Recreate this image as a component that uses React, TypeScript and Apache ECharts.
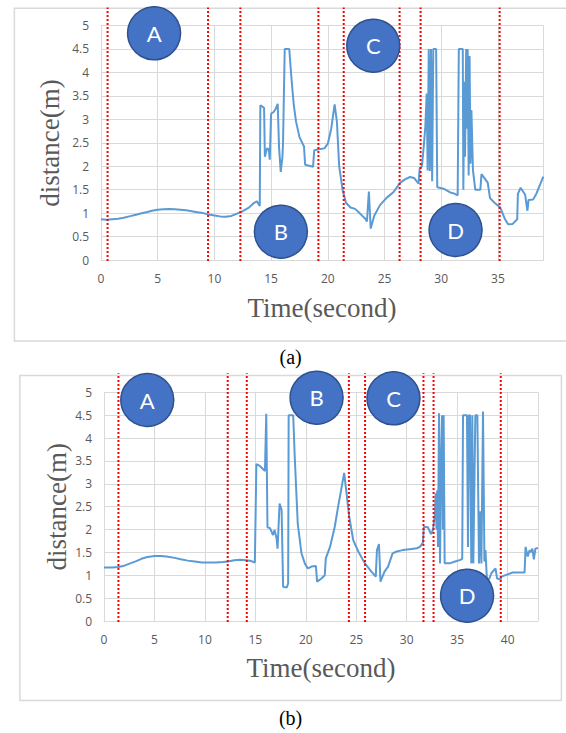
import React, { useEffect, useRef } from 'react';
import * as echarts from 'echarts';

// ---------- Data: chart (a) ----------
const timeA = [
  0, 0.5, 1, 1.5, 2, 2.5, 3, 3.5, 4, 4.5, 5, 5.5, 6, 6.5, 7, 7.5, 8, 8.5, 9, 9.5,
  10, 10.5, 11, 11.5, 12, 12.5, 13, 13.5, 13.75, 14.0,
  14.05, 14.3, 14.38, 14.45, 14.55, 14.65, 14.8, 14.88, 15.0, 15.2, 15.4, 15.58, 15.7, 15.85, 16.0, 16.05,
  16.2, 16.6, 16.8, 17.0, 17.2, 17.5, 17.9, 18.0, 18.7, 18.8, 19.2, 19.7, 20.0, 20.3, 20.6, 20.8,
  21.0, 21.3, 21.6, 22.0, 22.4, 22.8, 23.3, 23.45, 23.62, 23.78, 24.1, 24.6, 25.2, 25.8, 26.35, 26.8,
  27.25, 27.6, 28.0, 28.1, 28.3, 28.45, 28.6, 28.72, 28.8, 28.9, 29.0, 29.1, 29.2, 29.3, 29.55, 29.65,
  30.2, 30.8, 31.1, 31.45, 31.55, 31.9, 31.95, 32.04, 32.1, 32.2, 32.27, 32.33, 32.42, 32.5, 32.58, 32.66,
  32.8, 33.0, 33.45, 33.55, 34.1, 34.3, 34.7, 35.2, 35.6, 35.9, 36.3, 36.7, 36.76, 37.0, 37.4, 37.6,
  37.7, 38.1, 38.4, 39.0,
];
const distA = [
  0.87, 0.86, 0.87, 0.88, 0.9, 0.93, 0.96, 0.99, 1.02, 1.05, 1.07, 1.08, 1.09, 1.08, 1.07, 1.06, 1.04, 1.02, 1.0, 0.97,
  0.95, 0.93, 0.92, 0.94, 0.99, 1.04, 1.11, 1.22, 1.25, 1.15,
  3.3, 3.26, 3.24, 2.2, 2.3, 2.38, 2.36, 2.14, 3.12, 3.15, 3.22, 3.33, 2.4, 1.88, 2.2, 2.5,
  4.5, 4.5, 3.85, 3.3, 2.95, 2.62, 2.42, 2.03, 1.99, 2.34, 2.36, 2.38, 2.48, 2.8, 3.32, 2.95,
  2.0, 1.5, 1.22, 1.12, 1.09, 1.0, 0.88, 0.82, 1.46, 0.67, 0.95, 1.17, 1.33, 1.45, 1.64, 1.72,
  1.77, 1.75, 1.63, 1.95, 2.0, 2.4, 2.85, 3.55, 1.91, 4.5, 1.9, 4.5, 1.68, 4.5, 4.5, 1.55,
  1.52, 1.44, 1.42, 1.38, 4.5, 4.5, 1.5, 3.8, 2.2, 4.5, 2.8, 4.5, 1.8, 4.35, 2.05, 3.2,
  1.91, 1.5, 1.5, 1.83, 1.65, 1.32, 1.22, 1.12, 0.88, 0.76, 0.77, 0.87, 1.41, 1.54, 1.39, 1.05,
  1.28, 1.29, 1.42, 1.78,
];
const boundsA = [0.58, 9.44, 12.29, 19.17, 21.4, 26.33, 28.18, 35.15];

// ---------- Data: chart (b) ----------
const timeB = [
  0, 0.8, 1.43, 2.0, 2.6, 3.2, 3.7, 4.3, 5.0, 5.6, 6.2, 7.0, 7.6, 8.3, 9.0, 9.7, 10.4, 11.1, 11.8, 12.3,
  12.9, 13.5, 14.1, 14.6, 14.95,
  15.1, 15.45, 15.95, 16.08, 16.2, 16.45, 16.75, 16.9, 17.1, 17.2, 17.4, 17.6, 17.75, 18.1, 18.25, 18.3,
  18.75, 18.9, 19.2, 19.57, 19.9, 20.2, 20.56, 21.0, 21.12, 21.55, 21.88, 21.98, 22.4, 22.87, 23.2, 23.5,
  23.8, 24.0, 24.3, 24.7, 25.2, 25.85, 26.5, 26.93, 27.05, 27.25, 27.4, 27.8, 28.15, 28.6, 29.0, 29.6,
  30.3, 31.0, 31.3, 31.6, 31.7, 32.1, 32.4, 32.6, 32.8, 32.87, 32.95, 33.02, 33.1, 33.2, 33.3, 33.4,
  33.5, 33.58, 33.66, 33.76, 34.26, 34.8, 35.25, 35.5, 35.58, 35.97, 36.07, 36.17, 36.27, 36.4, 36.5, 36.6,
  36.8, 37.0, 37.16, 37.25, 37.4, 37.56, 37.7, 37.8, 37.95, 38.2, 38.4, 38.8, 38.95, 39.3, 39.4, 40.0,
  40.5, 41.68, 41.78, 41.99, 42.18, 42.3, 42.45, 42.6, 42.75, 43.0,
];
const distB = [
  1.17, 1.17, 1.18, 1.21, 1.26, 1.31, 1.36, 1.4, 1.42, 1.42, 1.41, 1.38, 1.35, 1.32, 1.3, 1.28, 1.28, 1.28, 1.29, 1.3,
  1.33, 1.34, 1.33, 1.31, 1.28,
  3.43, 3.39, 3.28, 4.53, 2.05, 2.03, 1.88, 1.99, 1.81, 1.58, 2.57, 2.43, 0.75, 0.73, 0.82, 4.5,
  4.5, 3.6, 2.13, 1.48, 1.26, 1.15, 1.19, 1.2, 0.86, 0.93, 1.0, 1.37, 1.62, 2.06, 2.5, 2.86,
  3.24, 2.86, 2.28, 1.77, 1.52, 1.26, 1.08, 0.97, 1.55, 1.68, 0.86, 1.08, 1.19, 1.48, 1.52, 1.55,
  1.57, 1.59, 1.62, 1.71, 2.06, 2.05, 1.9, 1.99, 2.35, 2.79, 2.0, 2.86, 1.62, 4.54, 1.26, 3.5,
  4.5, 2.0, 4.5, 1.26, 1.26, 1.3, 1.33, 1.36, 4.5, 4.5, 1.62, 4.5, 4.5, 1.26, 4.5, 1.26,
  4.5, 4.5, 1.26, 2.4, 1.26, 4.58, 1.3, 1.55, 0.9, 0.93, 1.05, 1.15, 0.93, 0.91, 0.97, 1.02,
  1.06, 1.06, 1.62, 1.41, 1.55, 1.5, 1.58, 1.35, 1.58, 1.6,
];
const boundsB = [1.43, 12.26, 14.15, 24.27, 25.87, 31.66, 32.66, 39.32];

const GRID = '#d9d9d9';
const LABEL = '#595959';

function xAxis(gridIndex: number, max: number) {
  return {
    type: 'value', gridIndex, min: 0, max, interval: 5,
    axisLine: { show: true, lineStyle: { color: GRID, width: 1 } },
    axisTick: { show: false },
    axisLabel: { color: LABEL, fontSize: 12, fontFamily: 'Open Sans', margin: 12, showMaxLabel: false },
    splitLine: { show: true, lineStyle: { color: GRID, width: 1 } },
  };
}
function yAxis(gridIndex: number) {
  return {
    type: 'value', gridIndex, min: 0, max: 5, interval: 0.5,
    axisLine: { show: false },
    axisTick: { show: false },
    axisLabel: { color: LABEL, fontSize: 12, fontFamily: 'Open Sans', margin: 12 },
    splitLine: { show: true, lineStyle: { color: GRID, width: 1 } },
  };
}
function boundarySeries(idx: number, bounds: number[], rise: number) {
  return {
    type: 'custom', xAxisIndex: idx, yAxisIndex: idx, z: 5,
    data: bounds.map((t) => [t, 0]),
    encode: { x: 0, y: 1 },
    renderItem: (_p: any, api: any) => {
      const b = api.coord([api.value(0), 0]);
      const t = api.coord([api.value(0), 5]);
      return {
        type: 'line',
        shape: { x1: b[0], y1: b[1] + 1, x2: b[0], y2: t[1] - rise },
        style: { stroke: '#ff0000', lineWidth: 2, lineDash: [2, 2] },
      };
    },
  };
}
function badge(cx: number, cy: number, letter: string) {
  return [
    { type: 'circle', z: 100, shape: { cx, cy, r: 26.5 }, style: { fill: '#4472C4', stroke: '#2F528F', lineWidth: 1.5 } },
    {
      type: 'text', z: 101, x: cx, y: cy,
      style: { text: letter, fill: '#ffffff', fontSize: 22, fontFamily: 'Lato', textAlign: 'center', textVerticalAlign: 'middle', align: 'center', verticalAlign: 'middle' },
    },
  ];
}
function label(x: number, y: number, text: string, size: number, color: string, rotation = 0) {
  return {
    type: 'text', z: 50, x, y, rotation,
    style: { text, fill: color, fontSize: size, fontFamily: '"Liberation Serif", serif', textAlign: 'center', textVerticalAlign: 'middle', align: 'center', verticalAlign: 'middle' },
  };
}

export default function App() {
  const ref = useRef<HTMLDivElement>(null);
  useEffect(() => {
    if (!ref.current) return;
    const chart = echarts.init(ref.current, null, { renderer: 'svg' });
    const option: any = {
      animation: false,
      backgroundColor: '#ffffff',
      grid: [
        { left: 101, top: 25.5, width: 442.3, height: 234.5 },
        { left: 104, top: 392.3, width: 433.9, height: 228.7 },
      ],
      xAxis: [xAxis(0, 39), xAxis(1, 43)],
      yAxis: [yAxis(0), yAxis(1)],
      series: [
        {
          type: 'line', xAxisIndex: 0, yAxisIndex: 0, z: 3, showSymbol: false, symbol: 'none',
          data: timeA.map((t, i) => [t, distA[i]]),
          lineStyle: { color: '#5B9BD5', width: 2 },
        },
        {
          type: 'line', xAxisIndex: 1, yAxisIndex: 1, z: 3, showSymbol: false, symbol: 'none',
          data: timeB.map((t, i) => [t, distB[i]]),
          lineStyle: { color: '#5B9BD5', width: 2 },
        },
        boundarySeries(0, boundsA, 18),
        boundarySeries(1, boundsB, 19),
      ],
      graphic: [
        { type: 'rect', z: 0, shape: { x: 14.4, y: 8.3, width: 560, height: 332.7 }, style: { fill: 'none', stroke: '#d9d9d9', lineWidth: 1.5 } },
        { type: 'rect', z: 0, shape: { x: 19.9, y: 375.5, width: 541.5, height: 325 }, style: { fill: 'none', stroke: '#d9d9d9', lineWidth: 1.5 } },
        label(49.6, 143, 'distance(m)', 27, LABEL, Math.PI / 2),
        label(322, 308, 'Time(second)', 27, LABEL),
        label(56.9, 506.7, 'distance(m)', 27, LABEL, Math.PI / 2),
        label(321, 668.3, 'Time(second)', 27, LABEL),
        label(290.6, 357, '(a)', 20, '#000000'),
        label(290.6, 718, '(b)', 20, '#000000'),
        ...badge(154.1, 33.3, 'A'),
        ...badge(280.9, 231.7, 'B'),
        ...badge(373.3, 45.7, 'C'),
        ...badge(455.6, 230, 'D'),
        ...badge(147.3, 400, 'A'),
        ...badge(316.6, 397.7, 'B'),
        ...badge(393.5, 398.3, 'C'),
        ...badge(467.1, 595.7, 'D'),
      ],
    };
    chart.setOption(option);
    return () => chart.dispose();
  }, []);
  return <div ref={ref} style={{ position: 'fixed', left: 0, top: 0, width: 566, height: 733, background: '#fff' }} />;
}
